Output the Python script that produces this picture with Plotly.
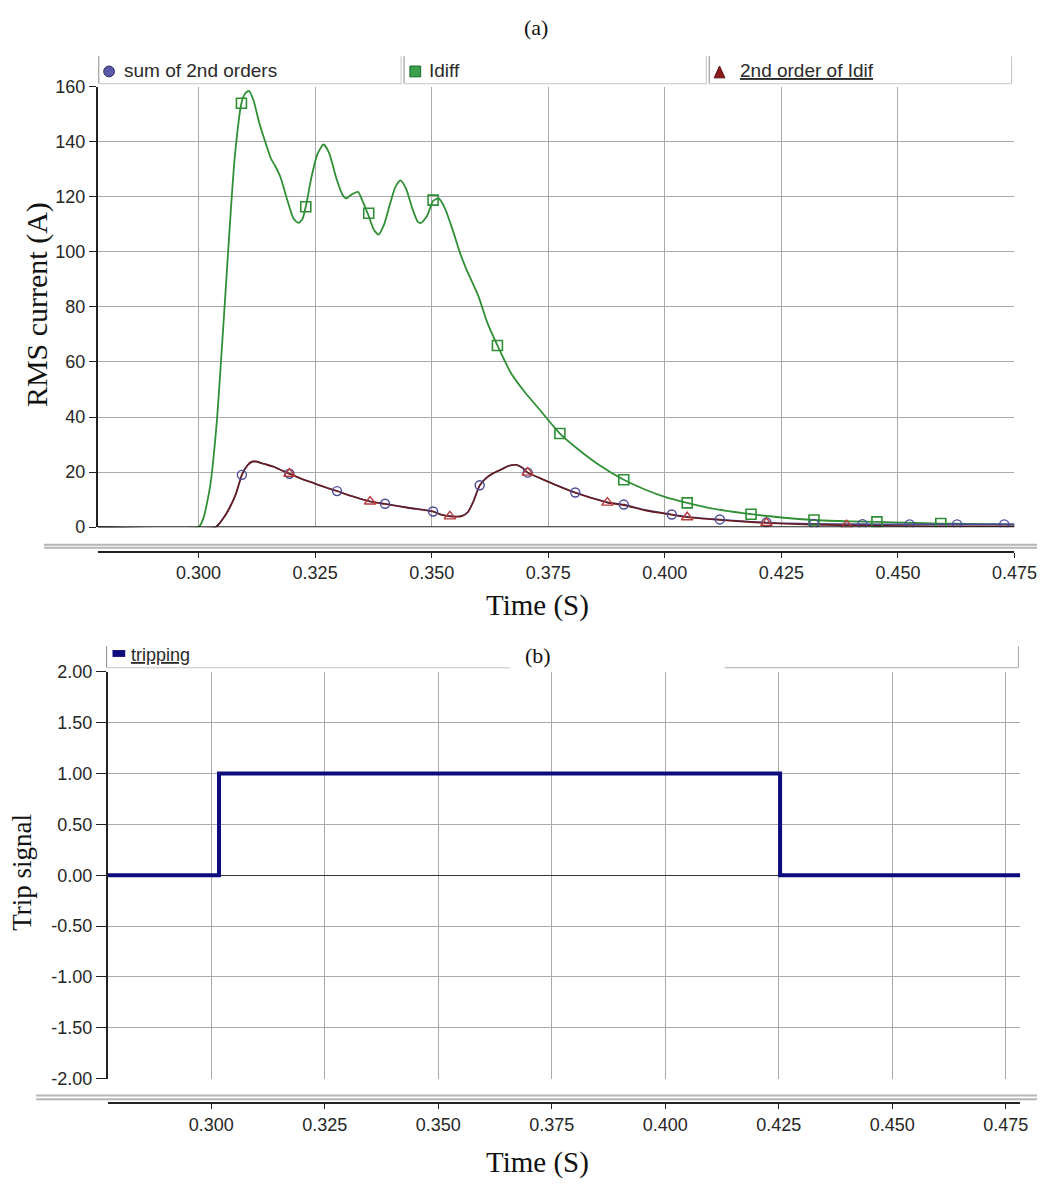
import plotly.graph_objects as go

W, H = 1060, 1188


def px(p):
    return p / W


def py(p):
    return 1 - p / H


# ---------------- Panel (a) data ----------------
idiff_t = [0.2784, 0.3000, 0.3010, 0.3025, 0.3039, 0.3050, 0.3060, 0.3070, 0.3078, 0.3092,
           0.3100, 0.3108, 0.3118, 0.3130, 0.3141, 0.3155, 0.3165, 0.3176, 0.3190, 0.3204,
           0.3214, 0.3223, 0.3232, 0.3242, 0.3255, 0.3268, 0.3280, 0.3295, 0.3308, 0.3316,
           0.3330, 0.3342, 0.3353, 0.3365, 0.3376, 0.3386, 0.3398, 0.3410, 0.3422, 0.3433,
           0.3445, 0.3458, 0.3470, 0.3477, 0.3490, 0.3503, 0.3515, 0.3528, 0.3545, 0.3560,
           0.3574, 0.3600, 0.3620, 0.3641, 0.3670, 0.3700, 0.3730, 0.3775, 0.3820, 0.3860,
           0.3912, 0.3960, 0.4000, 0.4048, 0.4100, 0.4150, 0.4185, 0.4250, 0.4320, 0.4400,
           0.4455, 0.4520, 0.4592, 0.4650, 0.4750]
idiff_v = [0, 0, 3, 15, 38, 65, 91, 117, 135, 154,
           157.5, 158.5, 155, 147, 141, 134, 131, 127, 119, 112,
           110.5, 112, 118, 127, 135.5, 139, 136, 127, 121, 119.4,
           121, 121.8, 118, 113, 108, 106.3, 110, 117, 123.5, 126,
           123, 116, 111, 110.5, 113, 118.5, 119.4, 116, 108, 100,
           93.8, 84, 74, 66, 56, 49, 43, 34, 27.5, 22.5,
           17.2, 13.5, 11, 8.8, 6.8, 5.5, 4.7, 3.5, 2.6, 2.1,
           1.9, 1.6, 1.3, 1.2, 1.0]

harm_t = [0.2784, 0.3036, 0.3050, 0.3065, 0.3080, 0.3093, 0.3105, 0.3115, 0.3125, 0.3140,
          0.3160, 0.3180, 0.3195, 0.3220, 0.3250, 0.3275, 0.3297, 0.3330, 0.3368, 0.3400,
          0.3450, 0.3503, 0.3520, 0.3539, 0.3565, 0.3578, 0.3590, 0.3603, 0.3618, 0.3631,
          0.3650, 0.3666, 0.3683, 0.3695, 0.3706, 0.3735, 0.3763, 0.3808, 0.3850, 0.3877,
          0.3912, 0.3960, 0.4015, 0.4048, 0.4118, 0.4218, 0.4320, 0.4424, 0.4525, 0.4627,
          0.4750]
# 2nd order of Idif
h2_v = [0, 0, 2.5, 6.5, 12, 19, 22.5, 23.8, 23.8, 23,
        22, 20.5, 19.4, 17.6, 15.8, 14.3, 13.1, 11.2, 9.3, 8.4,
        7.0, 5.7, 4.5, 3.9, 4.0, 5.5, 9.5, 15.2, 18, 19.5,
        21, 22.3, 22.6, 21.5, 19.8, 17.6, 15.5, 12.5, 10.2, 8.9,
        8.0, 6.0, 4.5, 3.6, 2.6, 1.5, 0.9, 0.6, 0.4, 0.3,
        0.3]
# sum of 2nd orders
sum2_v = [0, 0, 2.5, 6.5, 12, 19, 22.5, 23.8, 23.8, 23,
          22, 20.5, 19.4, 17.6, 15.8, 14.3, 13.1, 11.2, 9.3, 8.5,
          7.1, 5.7, 4.6, 4.0, 4.1, 5.6, 9.6, 15.2, 18, 19.5,
          21, 22.3, 22.6, 21.5, 19.8, 17.6, 15.6, 12.6, 10.3, 9.0,
          8.2, 6.2, 4.6, 3.8, 2.8, 1.7, 1.2, 1.1, 1.0, 1.0,
          1.0]

idiff_mk_t = [0.3092, 0.3230, 0.3365, 0.3503, 0.3641, 0.3775, 0.3912, 0.4048, 0.4185,
              0.4320, 0.4455, 0.4592]
idiff_mk_v = [154, 116.4, 114, 118.8, 66, 34, 17.2, 8.8, 4.7, 2.6, 1.9, 1.3]

sum2_mk_t = [0.3093, 0.3195, 0.3297, 0.3400, 0.3503, 0.3603, 0.3706, 0.3808, 0.3912,
             0.4015, 0.4118, 0.4218, 0.4320, 0.4424, 0.4525, 0.4627, 0.4728]
sum2_mk_v = [19, 19.4, 13.1, 8.5, 5.7, 15.2, 19.8, 12.6, 8.2, 4.6, 2.8, 1.7, 1.2, 1.1,
             1.0, 1.0, 1.0]

h2_mk_t = [0.3195, 0.3368, 0.3539, 0.3706, 0.3877, 0.4048, 0.4218, 0.4390]
h2_mk_v = [19.4, 9.3, 3.9, 19.8, 8.9, 3.6, 1.5, 0.7]

# ---------------- Panel (b) data ----------------
trip_t = [0.2772, 0.3017, 0.4253, 0.4782]
trip_v = [0, 1, 0, 0]

# ---------------- ticks ----------------
x_ticks = [0.300, 0.325, 0.350, 0.375, 0.400, 0.425, 0.450, 0.475]
x_ticklabels = ["0.300", "0.325", "0.350", "0.375", "0.400", "0.425", "0.450", "0.475"]
a_yticks = [0, 20, 40, 60, 80, 100, 120, 140, 160]
b_yticks = [-2.0, -1.5, -1.0, -0.5, 0.0, 0.5, 1.0, 1.5, 2.0]
b_yticklabels = ["-2.00", "-1.50", "-1.00", "-0.50", "0.00", "0.50", "1.00", "1.50", "2.00"]

legend_a = ["sum of 2nd orders", "Idiff", "2nd order of Idif"]

GREEN = "#2f8f35"
SUM_C = "#4a4a98"
H2_C = "#6a1c1c"
TRI_C = "#b83a3a"
NAVY = "#0c0c7c"
GRID = "#a9a9a9"
TICKF = dict(family="Liberation Sans, Arial", size=18, color="#262626")

fig = go.Figure()

# panel (a) traces
fig.add_trace(go.Scatter(x=idiff_t, y=idiff_v, mode="lines", line=dict(color=GREEN, width=1.8, shape="spline", smoothing=0.6),
                         xaxis="x", yaxis="y"))
fig.add_trace(go.Scatter(x=harm_t, y=sum2_v, mode="lines", line=dict(color=SUM_C, width=1.6, shape="spline", smoothing=0.6),
                         xaxis="x", yaxis="y"))
fig.add_trace(go.Scatter(x=harm_t, y=h2_v, mode="lines", line=dict(color=H2_C, width=1.6, shape="spline", smoothing=0.6),
                         xaxis="x", yaxis="y"))
fig.add_trace(go.Scatter(x=idiff_mk_t, y=idiff_mk_v, mode="markers",
                         marker=dict(symbol="square-open", size=10, color=GREEN, line=dict(width=1.6, color=GREEN)),
                         xaxis="x", yaxis="y"))
fig.add_trace(go.Scatter(x=sum2_mk_t, y=sum2_mk_v, mode="markers",
                         marker=dict(symbol="circle-open", size=9, color=SUM_C, line=dict(width=1.4, color=SUM_C)),
                         xaxis="x", yaxis="y"))
fig.add_trace(go.Scatter(x=h2_mk_t, y=h2_mk_v, mode="markers",
                         marker=dict(symbol="triangle-up-open", size=10, color=TRI_C, line=dict(width=1.4, color=TRI_C)),
                         xaxis="x", yaxis="y"))

# panel (b) trace
fig.add_trace(go.Scatter(x=trip_t, y=trip_v, mode="lines", line=dict(color=NAVY, width=4, shape="hv"),
                         xaxis="x2", yaxis="y2"))

fig.update_layout(
    width=W, height=H, margin=dict(l=0, r=0, t=0, b=0),
    paper_bgcolor="white", plot_bgcolor="white", showlegend=False,
    xaxis=dict(domain=[px(100), px(1037)], range=[0.2784, 0.475], anchor="free", position=py(551),
               tickvals=x_ticks, ticktext=x_ticklabels, showgrid=True, gridcolor=GRID, gridwidth=1,
               zeroline=False, showline=True, linecolor="#222222", linewidth=2,
               ticks="outside", ticklen=5, tickcolor="#222222", tickfont=TICKF),
    yaxis=dict(domain=[py(526), py(78)], range=[0, 160], anchor="x",
               tickvals=a_yticks, showgrid=True, gridcolor=GRID, gridwidth=1, zeroline=False,
               showline=True, linecolor="#222222", linewidth=2, ticks="outside", ticklen=7,
               tickcolor="#222222", tickfont=TICKF),
    xaxis2=dict(domain=[px(110), px(1043)], range=[0.27716, 0.47823], anchor="free", position=py(1112),
                tickvals=x_ticks, ticktext=x_ticklabels, showgrid=True, gridcolor=GRID, gridwidth=1,
                zeroline=False, showline=True, linecolor="#222222", linewidth=2,
                ticks="outside", ticklen=5, tickcolor="#222222", tickfont=TICKF),
    yaxis2=dict(domain=[py(1087), py(673)], range=[-2, 2], anchor="x2",
                tickvals=b_yticks, ticktext=b_yticklabels, showgrid=True, gridcolor=GRID, gridwidth=1,
                zeroline=True, zerolinecolor="#333333", zerolinewidth=1,
                showline=True, linecolor="#222222", linewidth=1.5, ticks="outside", ticklen=10,
                tickcolor="#222222", tickfont=TICKF),
)

shapes = []
LG = "#b5b5b5"
# bottom axis line of (a) at y=0
shapes.append(dict(type="line", xref="x", yref="y", x0=0.2784, x1=0.475, y0=0, y1=0,
                   line=dict(color="#222222", width=2)))
# double gray separator lines
for yy in (544, 547):
    shapes.append(dict(type="line", xref="paper", yref="paper", x0=px(45), x1=1, y0=py(yy), y1=py(yy),
                       line=dict(color=LG, width=2)))
for yy in (1104, 1108):
    shapes.append(dict(type="line", xref="paper", yref="paper", x0=px(37), x1=1, y0=py(yy), y1=py(yy),
                       line=dict(color=LG, width=2)))

# legend strip (a)
for (x0, x1) in [(101, 410), (413, 722), (725, 1034)]:
    shapes.append(dict(type="line", xref="paper", yref="paper", x0=px(x0), x1=px(x0), y0=py(75), y1=py(47),
                       line=dict(color="#8a8a8a", width=1)))
    shapes.append(dict(type="line", xref="paper", yref="paper", x0=px(x1), x1=px(x1), y0=py(75), y1=py(47),
                       line=dict(color="#c4c4c4", width=1)))
    shapes.append(dict(type="line", xref="paper", yref="paper", x0=px(x0), x1=px(x1), y0=py(75), y1=py(75),
                       line=dict(color="#c4c4c4", width=1)))
# legend symbols (a)
shapes.append(dict(type="circle", xref="paper", yref="paper", x0=px(106), x1=px(117), y0=py(68), y1=py(57),
                   fillcolor="#5a5aaa", line=dict(color="#2a2a60", width=1)))
shapes.append(dict(type="rect", xref="paper", yref="paper", x0=px(419), x1=px(430), y0=py(68), y1=py(57),
                   fillcolor="#3aa04a", line=dict(color="#1a6a2a", width=1)))
shapes.append(dict(type="path", xref="paper", yref="paper",
                   path=f"M {px(730)},{py(69)} L {px(741)},{py(69)} L {px(735.5)},{py(57)} Z",
                   fillcolor="#8b1a1a", line=dict(color="#5a1010", width=1)))

# legend strip (b)
shapes.append(dict(type="line", xref="paper", yref="paper", x0=px(109), x1=px(109), y0=py(669), y1=py(647),
                   line=dict(color="#8a8a8a", width=1)))
shapes.append(dict(type="line", xref="paper", yref="paper", x0=px(109), x1=px(521), y0=py(669), y1=py(669),
                   line=dict(color="#c4c4c4", width=1)))
shapes.append(dict(type="line", xref="paper", yref="paper", x0=px(741), x1=px(1041), y0=py(669), y1=py(669),
                   line=dict(color="#a8a8a8", width=1)))
shapes.append(dict(type="line", xref="paper", yref="paper", x0=px(1041), x1=px(1041), y0=py(669), y1=py(647),
                   line=dict(color="#a8a8a8", width=1)))
shapes.append(dict(type="rect", xref="paper", yref="paper", x0=px(115), x1=px(128), y0=py(658), y1=py(651),
                   fillcolor=NAVY, line=dict(width=0)))

fig.update_layout(shapes=shapes)

LEGF = dict(family="Liberation Sans, Arial", size=19, color="#2a2a2a")
SERIF = "Liberation Serif, Times New Roman, serif"
ann = [
    dict(text="(a)", x=px(548), y=py(18), font=dict(family=SERIF, size=22, color="#111111")),
    dict(text="(b)", x=px(550), y=py(657), font=dict(family=SERIF, size=22, color="#111111")),
    dict(text="RMS current (A)", x=px(38), y=py(300), textangle=-90, font=dict(family=SERIF, size=30, color="#111111")),
    dict(text="Trip signal", x=px(23), y=py(877), textangle=-90, font=dict(family=SERIF, size=27, color="#111111")),
    dict(text="Time (S)", x=px(549), y=py(606), font=dict(family=SERIF, size=29, color="#111111")),
    dict(text="Time (S)", x=px(549), y=py(1172), font=dict(family=SERIF, size=29, color="#111111")),
    dict(text=legend_a[0], x=px(125), y=py(62), xanchor="left", font=LEGF),
    dict(text=legend_a[1], x=px(436), y=py(62), xanchor="left", font=LEGF),
    dict(text="<u>" + legend_a[2] + "</u>", x=px(754), y=py(62), xanchor="left", font=LEGF),
    dict(text="<u>tripping</u>", x=px(132), y=py(656), xanchor="left", font=dict(family="Liberation Sans, Arial", size=18, color="#2a2a2a")),
]
for a in ann:
    a.setdefault("xanchor", "center")
    a.update(xref="paper", yref="paper", yanchor="middle", showarrow=False)
fig.update_layout(annotations=ann)

fig.write_html("out.html")
